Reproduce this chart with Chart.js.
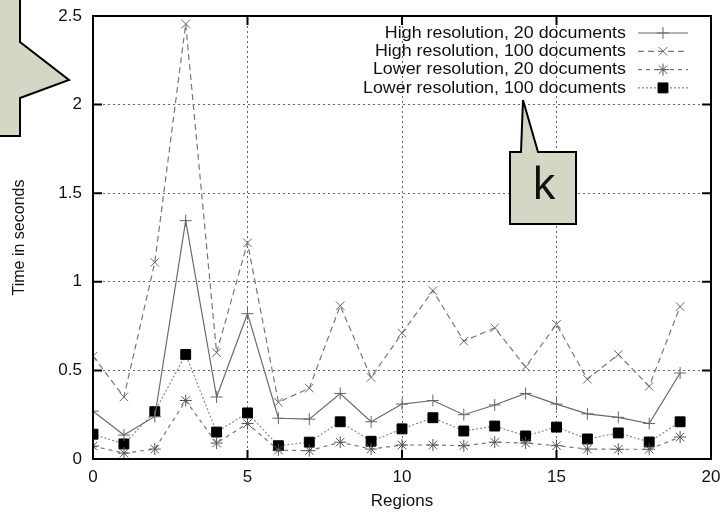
<!DOCTYPE html>
<html>
<head>
<meta charset="utf-8">
<script src="https://cdn.jsdelivr.net/npm/chart.js@4.4.1/dist/chart.umd.min.js"></script>
<style>
  html, body { margin: 0; padding: 0; background: #fff; }
  #wrap { position: relative; width: 720px; height: 512px; overflow: hidden; }
  #overlay { position: absolute; left: 0; top: 0; pointer-events: none; }
</style>
</head>
<body>
<div id="wrap">
  <canvas id="chart" width="720" height="512"></canvas>
  <svg id="overlay" width="720" height="512">
    <polygon points="-4,-4 20,-4 20,42 69,80 20,98 20,136 -4,136" fill="#d6d6c4" stroke="#000" stroke-width="2"/>
    <polygon points="510,152 521,152 523,100 538,152 576,152 576,224 510,224" fill="#d6d6c4" stroke="#000" stroke-width="2" stroke-linejoin="miter"/>
    <text x="544" y="199" text-anchor="middle" font-family="Noto Sans" font-size="44" fill="#111">k</text>
  </svg>
</div>
<script>
// values
const regions = [0, 1, 2, 3, 4, 5, 6, 7, 8, 9, 10, 11, 12, 13, 14, 15, 16, 17, 18, 19]
const highRes20 = [0.27, 0.135, 0.24, 1.345, 0.35, 0.82, 0.23, 0.225, 0.37, 0.21, 0.31, 0.33, 0.25, 0.305, 0.37, 0.31, 0.255, 0.235, 0.20, 0.485]
const highRes100 = [0.58, 0.35, 1.11, 2.455, 0.60, 1.22, 0.32, 0.40, 0.865, 0.46, 0.71, 0.95, 0.665, 0.74, 0.52, 0.76, 0.45, 0.59, 0.41, 0.86]
const lowRes20 = [0.073, 0.033, 0.056, 0.33, 0.09, 0.20, 0.05, 0.047, 0.095, 0.056, 0.079, 0.079, 0.075, 0.095, 0.09, 0.075, 0.056, 0.055, 0.055, 0.124]
const lowRes100 = [0.14, 0.085, 0.267, 0.59, 0.152, 0.26, 0.075, 0.095, 0.21, 0.10, 0.17, 0.233, 0.158, 0.186, 0.13, 0.18, 0.113, 0.147, 0.096, 0.21]
const seriesLabels = ['High resolution, 20 documents', 'High resolution, 100 documents', 'Lower resolution, 20 documents', 'Lower resolution, 100 documents']
const xTicks = [0, 5, 10, 15, 20]
const yTicks = [0, 0.5, 1, 1.5, 2, 2.5]
const yTickLabels = ['0', '0.5', '1', '1.5', '2', '2.5']

const FONT = 'Liberation Sans'

function pts(arr) {
  return arr.map((v, i) => ({ x: regions[i], y: v }))
}

// gnuplot style frame with inward ticks on all four sides
const framePlugin = {
  id: 'frame',
  afterDatasetsDraw(chart) {
    const { ctx, chartArea: a, scales } = chart
    ctx.save()
    ctx.strokeStyle = '#000'
    ctx.lineWidth = 2
    ctx.strokeRect(a.left, a.top, a.right - a.left, a.bottom - a.top)
    ctx.beginPath()
    xTicks.forEach(t => {
      const x = scales.x.getPixelForValue(t)
      ctx.moveTo(x, a.bottom); ctx.lineTo(x, a.bottom - 9)
      ctx.moveTo(x, a.top); ctx.lineTo(x, a.top + 9)
    })
    yTicks.forEach(t => {
      const y = scales.y.getPixelForValue(t)
      ctx.moveTo(a.left, y); ctx.lineTo(a.left + 9, y)
      ctx.moveTo(a.right, y); ctx.lineTo(a.right - 9, y)
    })
    ctx.stroke()
    ctx.restore()
  }
}

// key in the top right corner: text right aligned, sample to its right
const keyPlugin = {
  id: 'key',
  afterDraw(chart) {
    const ctx = chart.ctx
    ctx.save()
    ctx.font = '17px "' + FONT + '"'
    // the reference text runs a bit wider than the font, stretch it to fit
    const widest = ctx.measureText(seriesLabels[3]).width
    const stretch = 263 / widest
    chart.data.datasets.forEach((ds, i) => {
      const y = 33 + i * 18.3
      ctx.save()
      ctx.translate(626, y)
      ctx.scale(stretch, 1)
      ctx.textAlign = 'right'
      ctx.textBaseline = 'middle'
      ctx.fillStyle = '#111'
      ctx.fillText(ds.label, 0, 0)
      ctx.restore()
      ctx.strokeStyle = ds.borderColor
      ctx.lineWidth = ds.borderWidth
      ctx.setLineDash(ds.borderDash || [])
      ctx.beginPath()
      ctx.moveTo(638, y); ctx.lineTo(688, y)
      ctx.stroke()
      ctx.setLineDash([])
      ctx.fillStyle = ds.pointBackgroundColor
      ctx.strokeStyle = ds.pointBorderColor
      ctx.lineWidth = 1
      Chart.helpers.drawPoint(ctx, { pointStyle: ds.pointStyle, radius: ds.pointRadius, borderWidth: 1 }, 663, y)
    })
    ctx.restore()
  }
}

new Chart(document.getElementById('chart').getContext('2d'), {
  type: 'line',
  data: {
    datasets: [
      {
        label: seriesLabels[0], data: pts(highRes20),
        borderColor: '#6a6a6a', borderWidth: 1.2, borderDash: [],
        pointStyle: 'cross', pointRadius: 6, pointBorderColor: '#666', pointBackgroundColor: '#666', pointBorderWidth: 1
      },
      {
        label: seriesLabels[1], data: pts(highRes100),
        borderColor: '#777', borderWidth: 1.2, borderDash: [6, 4],
        pointStyle: 'crossRot', pointRadius: 6, pointBorderColor: '#666', pointBackgroundColor: '#666', pointBorderWidth: 1
      },
      {
        label: seriesLabels[2], data: pts(lowRes20),
        borderColor: '#777', borderWidth: 1.2, borderDash: [4, 4],
        pointStyle: 'star', pointRadius: 6, pointBorderColor: '#555', pointBackgroundColor: '#555', pointBorderWidth: 1
      },
      {
        label: seriesLabels[3], data: pts(lowRes100),
        borderColor: '#888', borderWidth: 1.2, borderDash: [2, 2],
        pointStyle: 'rect', pointRadius: 7, pointBorderColor: '#000', pointBackgroundColor: '#000', pointBorderWidth: 1
      }
    ]
  },
  options: {
    responsive: false,
    animation: false,
    events: [],
    layout: { padding: { left: 0, top: 16, right: 9, bottom: 0 } },
    plugins: { legend: { display: false }, tooltip: { enabled: false } },
    elements: { line: { tension: 0 } },
    scales: {
      x: {
        type: 'linear', min: 0, max: 20,
        afterBuildTicks: s => { s.ticks = xTicks.map(v => ({ value: v })) },
        afterFit: s => { s.height = 53; s.paddingLeft = 0; s.paddingRight = 0 },
        ticks: { color: '#111', padding: 8, font: { family: FONT, size: 17 }, maxRotation: 0, callback: v => String(v) },
        grid: { color: ctx => (ctx.tick && (ctx.tick.value === 0 || ctx.tick.value === 20)) ? 'rgba(0,0,0,0)' : '#666', drawTicks: false, lineWidth: 1 },
        border: { display: false, dash: [2, 3] },
        title: { display: true, text: 'Regions', color: '#111', padding: 0, font: { family: FONT, size: 17, lineHeight: 1.2 } }
      },
      y: {
        type: 'linear', min: 0, max: 2.5,
        afterBuildTicks: s => { s.ticks = yTicks.map(v => ({ value: v })) },
        afterFit: s => { s.width = 93; s.paddingTop = 0; s.paddingBottom = 0 },
        ticks: { color: '#111', padding: 11, font: { family: FONT, size: 17 }, callback: (v, i) => yTickLabels[i] },
        grid: { color: ctx => (ctx.tick && (ctx.tick.value === 0 || ctx.tick.value === 2.5)) ? 'rgba(0,0,0,0)' : '#666', drawTicks: false, lineWidth: 1 },
        border: { display: false, dash: [2, 3] },
        title: { display: true, text: 'Time in seconds', color: '#111', padding: { top: 10, bottom: 0 }, font: { family: FONT, size: 16, lineHeight: 1.2 } }
      }
    }
  },
  plugins: [framePlugin, keyPlugin]
})
</script>
</body>
</html>
